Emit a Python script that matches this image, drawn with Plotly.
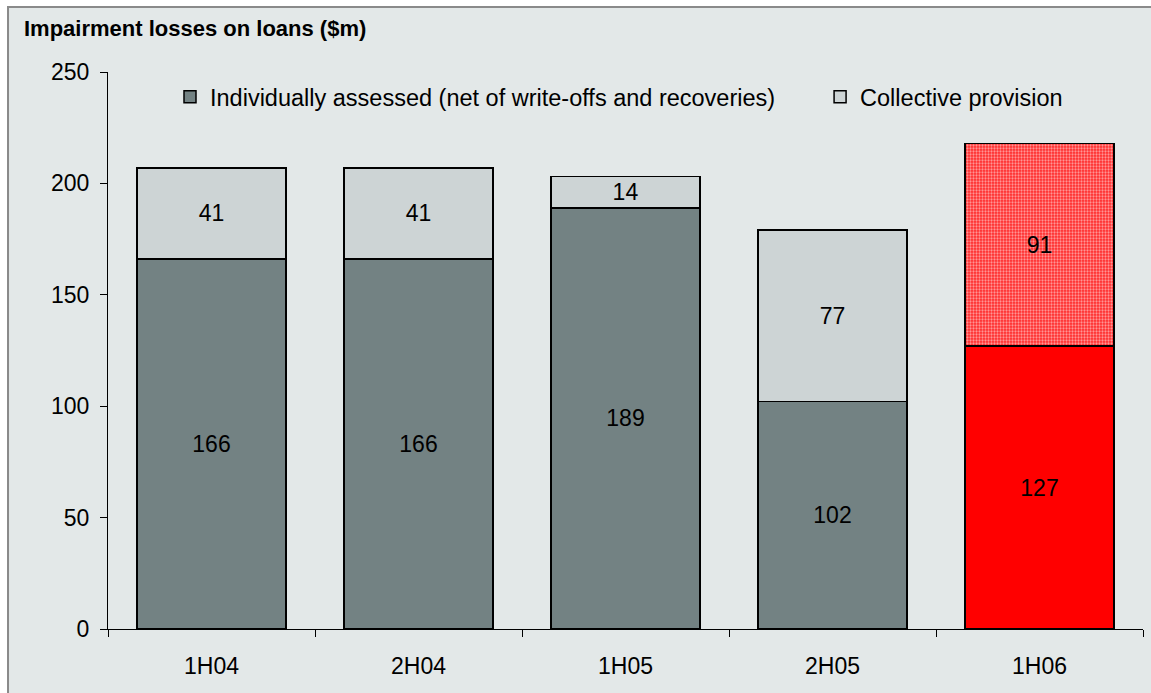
import plotly.graph_objects as go

periods = ["1H04", "2H04", "1H05", "2H05", "1H06"]
individual = [166, 166, 189, 102, 127]
collective = [41, 41, 14, 77, 91]

DARK = "#738283"
LIGHT = "#CDD4D5"
RED = "#FF0000"
BG = "#E3E8E8"
FONT = "Liberation Sans, Arial, sans-serif"

ind_colors = [DARK] * 4 + [RED]
col_colors = [LIGHT] * 4 + ["#FF2A2A"]
col_shapes = [""] * 4 + ["."]

fig = go.Figure()
fig.add_trace(go.Bar(
    x=periods, y=individual, name="Individually assessed (net of write-offs and recoveries)",
    marker=dict(color=ind_colors, line=dict(color="#000000", width=1.5)),
    text=individual, textposition="inside", insidetextanchor="middle",
    textangle=0, constraintext="none",
    textfont=dict(family=FONT, size=23, color="#000000"),
    legend="legend",
))
fig.add_trace(go.Bar(
    x=periods, y=collective, name="Collective provision",
    marker=dict(color=col_colors, line=dict(color="#000000", width=1.5),
                pattern=dict(shape=col_shapes, fgcolor="#FFFFFF", size=3, solidity=0.45)),
    text=collective, textposition="inside", insidetextanchor="middle",
    textangle=0, constraintext="none",
    textfont=dict(family=FONT, size=23, color="#000000"),
    legend="legend2",
))

# framed grey panel behind the chart
fig.add_shape(type="rect", xref="paper", yref="paper",
              x0=-0.0966, x1=1.1, y0=-0.2, y1=1.1167,
              fillcolor=BG, line=dict(color="#8A8A8A", width=2), layer="below")

fig.add_annotation(text="<b>Impairment losses on loans ($m)</b>", xref="paper", yref="paper",
                   x=-0.083, y=1.0775, xanchor="left", yanchor="middle", showarrow=False,
                   font=dict(family=FONT, size=22, color="#000000"))

legend_style = dict(orientation="h", y=0.955, xanchor="left", yanchor="middle",
                    bgcolor="rgba(0,0,0,0)",
                    font=dict(family=FONT, size=23.5, color="#000000"))

fig.update_layout(
    width=1151, height=693,
    margin=dict(l=108, r=8, t=72, b=64),
    paper_bgcolor="#FFFFFF", plot_bgcolor="rgba(0,0,0,0)",
    barmode="stack", bargap=0.28,
    font=dict(family=FONT, size=23, color="#000000"),
    showlegend=True,
    legend=dict(x=0.0599, **legend_style),
    legend2=dict(x=0.688, **legend_style),
    xaxis=dict(showline=True, linecolor="#000000", linewidth=1, ticks="outside",
               tickson="boundaries", ticklen=7, tickcolor="#000000",
               ticklabelstandoff=16, showgrid=False),
    yaxis=dict(range=[0, 250], dtick=50, showline=True, linecolor="#000000", linewidth=1,
               ticks="outside", ticklen=7, tickcolor="#000000", showgrid=False,
               zeroline=False, ticklabelstandoff=6),
)

fig.write_html("out.html")
